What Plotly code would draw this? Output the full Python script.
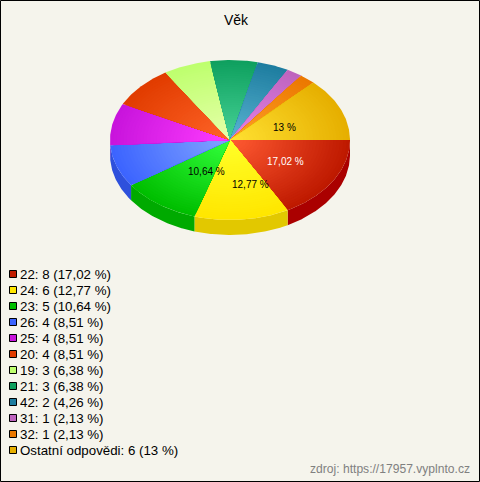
import math
import plotly.graph_objects as go

categories = ["22", "24", "23", "26", "25", "20", "19", "21", "42", "31", "32", "Ostatní odpovědi"]
counts = [8, 6, 5, 4, 4, 4, 3, 3, 2, 1, 1, 6]
percent_labels = ["17,02 %", "12,77 %", "10,64 %", "8,51 %", "8,51 %", "8,51 %", "6,38 %", "6,38 %", "4,26 %", "2,13 %", "2,13 %", "13 %"]
rim_colors = [(190, 25, 0), (255, 230, 0), (0, 190, 0), (60, 100, 255), (200, 20, 220), (225, 60, 0),
              (190, 255, 110), (15, 160, 95), (30, 125, 160), (190, 100, 190), (235, 120, 0), (230, 175, 0)]
center_colors = [(255, 90, 50), (255, 255, 40), (50, 255, 60), (130, 165, 255), (255, 60, 255), (255, 100, 40),
                 (230, 255, 170), (70, 210, 150), (90, 180, 210), (230, 130, 230), (255, 160, 40), (255, 225, 50)]
side_colors = [(170, 0, 0), (226, 200, 0), (0, 170, 0), (46, 80, 220), (170, 15, 190), (190, 50, 0),
               (160, 220, 90), (10, 130, 80), (25, 100, 130), (160, 80, 160), (200, 100, 0), (200, 150, 0)]
legend_colors = ["#C01C00", "#FFE600", "#00BE00", "#3C64FF", "#C814DC", "#E13C00",
                 "#BEFF6E", "#0FA05F", "#1E7DA0", "#BE64BE", "#EB7800", "#E6AF00"]

W, H = 480, 482
CX, CY, RX, RY, DEPTH = 230, 140, 120, 80, 15
BG = "#F5F4EC"
RINGS = 36
total = sum(counts)

fig = go.Figure()


def arc(a0, a1, f=1.0, dy=0.0):
    n = max(2, int(abs(a1 - a0) * 1.5) + 2)
    xs, ys = [], []
    for i in range(n):
        a = math.radians(a0 + (a1 - a0) * i / (n - 1))
        xs.append(CX + RX * f * math.cos(a))
        ys.append(CY + RY * f * math.sin(a) + dy)
    return xs, ys


def poly(xs, ys, rgb):
    fig.add_trace(go.Scatter(x=xs, y=ys, mode="lines", fill="toself",
                             fillcolor="rgb(%d,%d,%d)" % tuple(rgb),
                             line=dict(width=0, color="rgba(0,0,0,0)"),
                             hoverinfo="skip", showlegend=False))


spans = []
acc = 0.0
for c in counts:
    spans.append((acc / total * 360, (acc + c) / total * 360))
    acc += c

# extruded side of the front half
for (a0, a1), side in zip(spans, side_colors):
    s0, s1 = max(a0, 0), min(a1, 180)
    if s1 > s0:
        tx, ty = arc(s0, s1)
        bx, by = arc(s1, s0, dy=DEPTH)
        poly(tx + bx + tx[:1], ty + by + ty[:1], side)

# top surface, radial shading built from nested wedges
for (a0, a1), rim, mid in zip(spans, rim_colors, center_colors):
    for r in range(RINGS):
        t = r / (RINGS - 1)
        f = 1 - r / RINGS
        col = [round(p + (q - p) * t) for p, q in zip(rim, mid)]
        xs, ys = arc(a0, a1, f)
        poly([CX] + xs + [CX], [CY] + ys + [CY], col)

annotations = [dict(x=236, y=20, text="Věk", showarrow=False, xanchor="center", yanchor="middle",
                    font=dict(family="Liberation Sans", size=14, color="#000000")),
               dict(x=472, y=469, text="zdroj: https://17957.vyplnto.cz", showarrow=False,
                    xanchor="right", yanchor="middle",
                    font=dict(family="Liberation Sans", size=12.1, color="#808080"))]

# value labels on the large slices: index, x, y, colour
for idx, lx, ly, col in [(0, 285, 161, "#FFFFFF"), (1, 250, 184, "#000000"),
                         (2, 206, 171, "#000000"), (11, 284, 127, "#000000")]:
    annotations.append(dict(x=lx, y=ly, text=percent_labels[idx], showarrow=False,
                            xanchor="center", yanchor="middle",
                            font=dict(family="Liberation Sans", size=10, color=col)))

# legend
legend_y = [274 + 16 * i for i in range(len(categories))]
fig.add_trace(go.Scatter(
    x=[13] * len(categories), y=legend_y, mode="markers",
    marker=dict(symbol="square", size=7, color=legend_colors, line=dict(color="#000000", width=1)),
    hoverinfo="skip", showlegend=False))
for name, n, pct, y in zip(categories, counts, percent_labels, legend_y):
    annotations.append(dict(x=18, y=y, text="%s: %d (%s)" % (name, n, pct), showarrow=False,
                            xanchor="left", yanchor="middle",
                            font=dict(family="Liberation Sans", size=13.3, color="#000000")))

fig.update_layout(
    width=W, height=H, margin=dict(l=0, r=0, t=0, b=0),
    paper_bgcolor=BG, plot_bgcolor=BG, showlegend=False,
    xaxis=dict(range=[0, W], visible=False, fixedrange=True),
    yaxis=dict(range=[H, 0], visible=False, fixedrange=True),
    annotations=annotations,
    shapes=[dict(type="rect", x0=0.5, y0=0.5, x1=W - 0.5, y1=H - 0.5,
                 line=dict(color="#000000", width=1), fillcolor="rgba(0,0,0,0)", layer="above")],
)
fig.write_html("out.html", config={"displayModeBar": False},
               post_script="document.body.style.margin='0';document.documentElement.style.overflow='hidden';")
